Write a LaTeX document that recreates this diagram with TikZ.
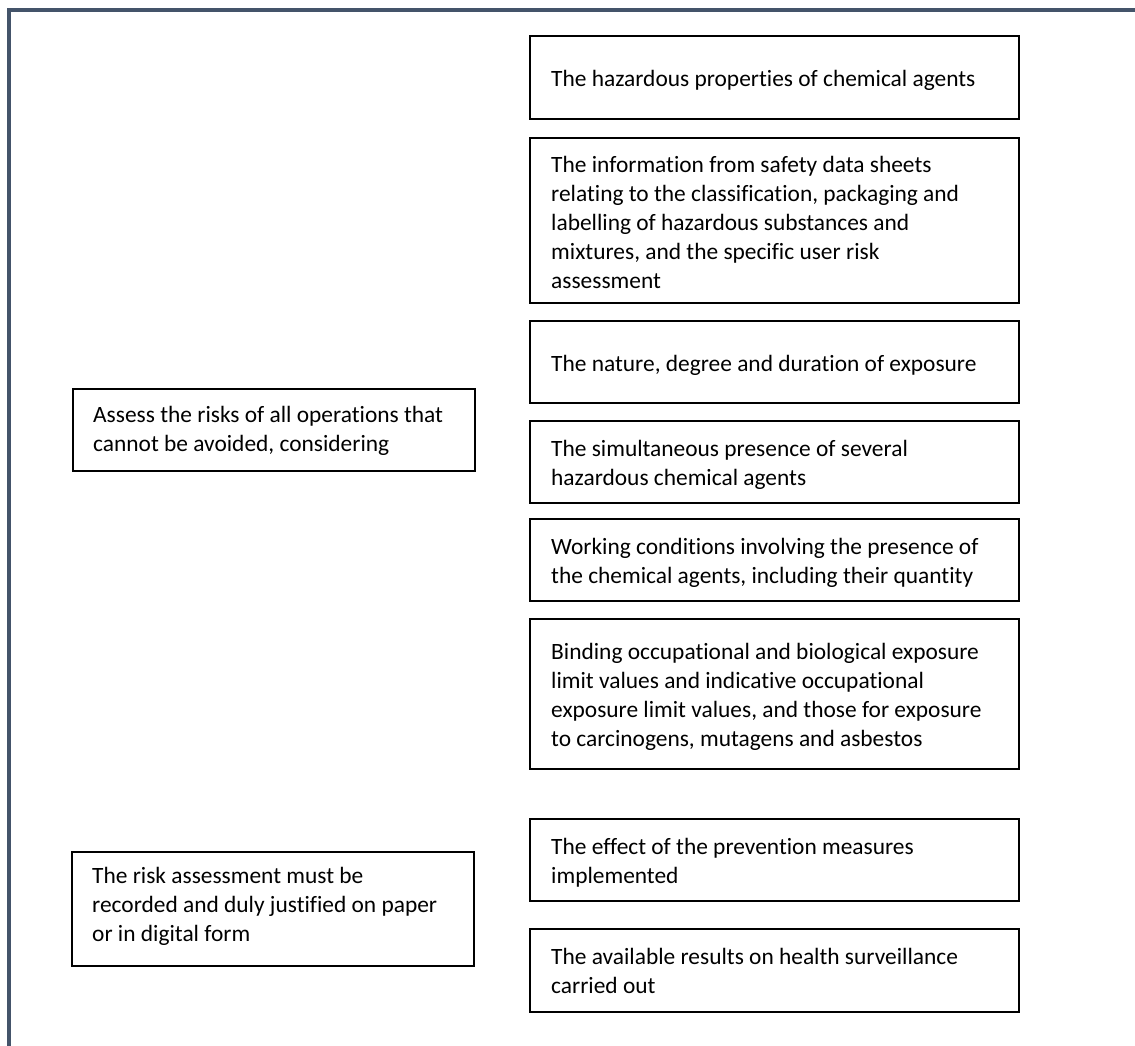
\documentclass[tikz,border=0pt]{standalone}
\usepackage{fontspec}
\setmainfont{Carlito}[Ligatures=NoCommon]
\definecolor{framecol}{HTML}{44546A}
\begin{document}
\begin{tikzpicture}[x=1pt,y=-1pt,
  frame/.style={draw=black, line width=2pt, rectangle, inner sep=0pt, anchor=center},
  rbox/.style={frame, minimum width=489pt},
  lbox/.style={frame, minimum width=402pt},
  txt/.style={inner sep=0pt, align=left, anchor=west,
    font=\fontsize{23.4pt}{29pt}\selectfont}]
\useasboundingbox (0,0) rectangle (1135,1046);
% page frame: left and top rule
\draw[framecol, line width=4pt] (9,1046) -- (9,10.5) -- (1135,10.5);

% left column
\node[lbox, minimum height=82pt] (assess) at (274,430) {};
\node[txt] (assess-t) at ([xshift=21pt,yshift=-1pt]assess.west)
  {Assess the risks of all operations that\\cannot be avoided, considering};
\node[lbox, minimum height=114pt] (record) at (273,909) {};
\node[txt] (record-t) at ([xshift=21pt,yshift=3pt]record.west)
  {The risk assessment must be\\recorded and duly justified on paper\\or in digital form};

% right column
\node[rbox, minimum height=83pt] (r1) at (774.5,77.5) {};
\node[txt] (r1-t) at ([xshift=22pt,yshift=-3pt]r1.west)
  {The hazardous properties of chemical agents};
\node[rbox, minimum height=165pt] (r2) at (774.5,220.5) {};
\node[txt] (r2-t) at ([xshift=22pt,yshift=-2pt]r2.west)
  {The information from safety data sheets\\relating to the classification, packaging and\\labelling of hazardous substances and\\mixtures, and the specific user risk\\assessment};
\node[rbox, minimum height=82pt] (r3) at (774.5,362) {};
\node[txt] (r3-t) at ([xshift=22pt,yshift=-3pt]r3.west)
  {The nature, degree and duration of exposure};
\node[rbox, minimum height=82pt] (r4) at (774.5,462) {};
\node[txt] (r4-t) at ([xshift=22pt,yshift=-3pt]r4.west)
  {The simultaneous presence of several\\hazardous chemical agents};
\node[rbox, minimum height=82pt] (r5) at (774.5,560) {};
\node[txt] (r5-t) at ([xshift=22pt,yshift=-3pt]r5.west)
  {Working conditions involving the presence of\\the chemical agents, including their quantity};
\node[rbox, minimum height=150pt] (r6) at (774.5,694) {};
\node[txt] (r6-t) at ([xshift=22pt,yshift=-3pt]r6.west)
  {Binding occupational and biological exposure\\limit values and indicative occupational\\exposure limit values, and those for exposure\\to carcinogens, mutagens and asbestos};
\node[rbox, minimum height=82pt] (r7) at (774.5,860) {};
\node[txt] (r7-t) at ([xshift=22pt,yshift=-3pt]r7.west)
  {The effect of the prevention measures\\implemented};
\node[rbox, minimum height=83pt] (r8) at (774.5,970.5) {};
\node[txt] (r8-t) at ([xshift=22pt]r8.west)
  {The available results on health surveillance\\carried out};
\end{tikzpicture}
\end{document}
